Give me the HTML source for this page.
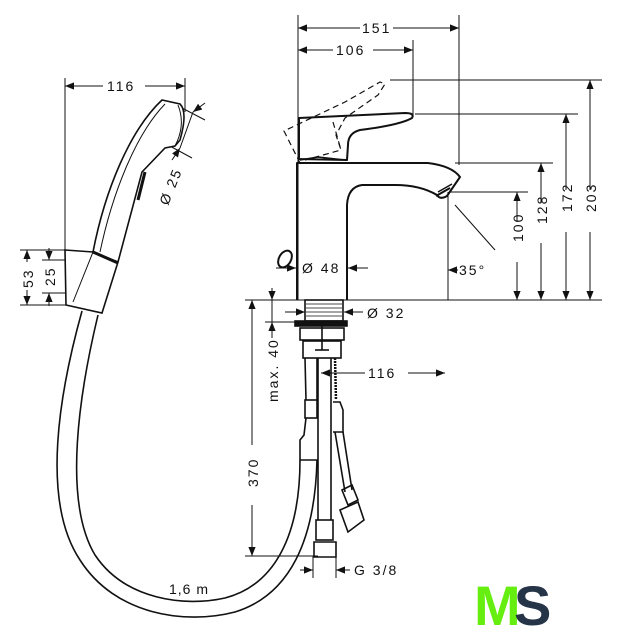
<!DOCTYPE html>
<html><head><meta charset="utf-8"><style>
html,body{margin:0;padding:0;background:#fff;}
svg{display:block}
text{font-family:"Liberation Sans",sans-serif;font-size:14px;fill:#111;letter-spacing:2px}
</style></head><body>
<svg width="617" height="640" viewBox="0 0 617 640" xmlns="http://www.w3.org/2000/svg">
<defs>
<marker id="a" viewBox="0 0 10 10" refX="10" refY="5" markerWidth="9" markerHeight="9" orient="auto-start-reverse" markerUnits="userSpaceOnUse"><path d="M0,1 L10,5 L0,9 z" fill="#111"/></marker>
</defs>
<g stroke="#111" stroke-width="1" fill="none">
<line x1="298" y1="15" x2="298" y2="300"/>
<line x1="459" y1="15" x2="459" y2="165"/>
<line x1="413" y1="40" x2="413" y2="115"/>
<line x1="390" y1="80" x2="602" y2="80"/>
<line x1="415" y1="114" x2="578" y2="114"/>
<line x1="455" y1="163" x2="553" y2="163"/>
<line x1="450" y1="192" x2="528" y2="192"/>
<line x1="245" y1="300" x2="602" y2="300"/>
<line x1="448" y1="192" x2="448" y2="300"/>
<line x1="455" y1="205" x2="495" y2="250"/>
<line x1="265" y1="322" x2="300" y2="322"/>
<line x1="245" y1="556" x2="318" y2="556"/>
<line x1="313" y1="556" x2="313" y2="578"/>
<line x1="336" y1="556" x2="336" y2="578"/>
<line x1="65" y1="78" x2="65" y2="252"/>
<line x1="185" y1="78" x2="185" y2="112"/>
<line x1="20" y1="250" x2="68" y2="250"/>
<line x1="20" y1="305" x2="68" y2="305"/>
<line x1="42" y1="260" x2="68" y2="260"/>
<line x1="42" y1="293" x2="68" y2="293"/>
<line x1="298" y1="28" x2="360" y2="28" marker-start="url(#a)"/><line x1="393" y1="28" x2="459" y2="28" marker-end="url(#a)"/>
<line x1="298" y1="50" x2="333" y2="50" marker-start="url(#a)"/><line x1="373" y1="50" x2="413" y2="50" marker-end="url(#a)"/>
<line x1="65" y1="86" x2="103" y2="86" marker-start="url(#a)"/><line x1="145" y1="86" x2="185" y2="86" marker-end="url(#a)"/>
<line x1="590" y1="80" x2="590" y2="190" marker-start="url(#a)"/><line x1="590" y1="232" x2="590" y2="300" marker-end="url(#a)"/>
<line x1="566" y1="114" x2="566" y2="190" marker-start="url(#a)"/><line x1="566" y1="232" x2="566" y2="300" marker-end="url(#a)"/>
<line x1="541" y1="163" x2="541" y2="203" marker-start="url(#a)"/><line x1="541" y1="243" x2="541" y2="300" marker-end="url(#a)"/>
<line x1="517" y1="192" x2="517" y2="222" marker-start="url(#a)"/><line x1="517" y1="262" x2="517" y2="300" marker-end="url(#a)"/>
<line x1="276" y1="268" x2="296" y2="268" marker-end="url(#a)"/><line x1="368" y1="268" x2="348" y2="268" marker-end="url(#a)"/>
<line x1="458" y1="270" x2="448" y2="270" marker-end="url(#a)"/>
<line x1="285" y1="312" x2="305" y2="312" marker-end="url(#a)"/><line x1="363" y1="312" x2="344" y2="312" marker-end="url(#a)"/>
<line x1="272" y1="288" x2="272" y2="300" marker-end="url(#a)"/><line x1="272" y1="338" x2="272" y2="322" marker-end="url(#a)"/>
<line x1="272" y1="300" x2="272" y2="322"/>
<line x1="252" y1="300" x2="252" y2="445" marker-start="url(#a)"/><line x1="252" y1="505" x2="252" y2="556" marker-end="url(#a)"/>
<line x1="365" y1="373" x2="321" y2="373" marker-end="url(#a)"/><line x1="408" y1="373" x2="445" y2="373" marker-end="url(#a)"/>
<line x1="300" y1="570" x2="313" y2="570" marker-end="url(#a)"/><line x1="350" y1="570" x2="336" y2="570" marker-end="url(#a)"/>
<line x1="27" y1="250" x2="27" y2="262" marker-start="url(#a)"/><line x1="27" y1="290" x2="27" y2="305" marker-end="url(#a)"/>
<line x1="49" y1="248" x2="49" y2="260" marker-end="url(#a)"/><line x1="49" y1="306" x2="49" y2="293" marker-end="url(#a)"/>
<line x1="168" y1="145" x2="192" y2="158"/><line x1="182" y1="108" x2="205" y2="120"/>
<line x1="205" y1="103" x2="193" y2="112" marker-end="url(#a)"/><line x1="172" y1="160" x2="180" y2="148" marker-end="url(#a)"/>
<line x1="180" y1="148" x2="193" y2="112"/>
</g>
<g stroke="#111" stroke-width="2" fill="none" stroke-linejoin="round">
<path d="M297,300 L297,163 L428,163 Q452,166 460,177 L447,196 Q440,200 437,195 Q420,185 395,185 L362,185 Q348,187 347,205 L347,300"/>
<path d="M438,192 L452,184" stroke-width="1.5"/><path d="M436,196 L450,188"/>
<path d="M299,159 L299,118 L405,113 Q415,113 412,118 Q400,125 360,130 Q348,133 348,145 L347,160 Z" fill="#fff"/>
<path d="M300,160 L318,157 L345,160" stroke-width="1.5"/>
<ellipse cx="285" cy="259" rx="6" ry="9" transform="rotate(30 285 259)"/>
</g>
<g stroke="#111" stroke-width="1.2" fill="none" stroke-dasharray="6,4">
<path d="M300,163 L284,131 L345,102 L380,82 L385,84 L378,95 L345,118 L336,135 L341,150 L305,160"/>
<path d="M333,122 L341,150"/>
</g>
<g stroke="#111" stroke-width="1.6" fill="none">
<rect x="305" y="300" width="38" height="21"/>
<path d="M306,304h36M306,308h36M306,312h36M306,316h36" stroke-width="0.8"/>
<rect x="295" y="321" width="52" height="5" fill="#111"/>
<rect x="300" y="328" width="44" height="12"/>
<rect x="303" y="341" width="38" height="17"/>
<line x1="322" y1="326" x2="322" y2="350"/><line x1="315" y1="350" x2="329" y2="350"/>
<path d="M318,358 L318,520 M331,358 L331,520"/>
<rect x="316" y="520" width="17" height="20"/>
<path d="M314,542 h22 v15 h-22 z"/>
<path d="M305,358 L306,400 M317,358 L317,400"/>
<rect x="305" y="400" width="12" height="18"/>
<path d="M306,418 L304,435 L300,440 L300,460 L318,460"/>
<path d="M335,358 L336,400" stroke-dasharray="2,1" stroke-width="2.5"/>
<path d="M333,402 L340,402 L343,410 L343,432 L333,432"/>
<path d="M335,432 L345,492 M343,432 L352,490"/>
<path d="M342,490 L352,485 L358,500 L348,505 Z"/>
<path d="M340,510 L358,502 L364,520 L348,532 Z"/>
<path d="M82,311 C60,390 40,500 80,560 C115,615 185,625 235,612 C290,595 315,540 317,460"/>
<path d="M98,315 C80,390 62,500 95,555 C125,600 185,607 225,598 C275,585 300,535 300,460"/>
<path d="M93,252 C105,190 130,130 162,100 L180,104 Q188,112 180,140 L175,146 L165,148 L142,172 L118,262" fill="#fff"/>
<path d="M100,252 C112,195 135,135 165,104" stroke-width="1"/>
<path d="M178,105 Q186,125 175,146" stroke-width="1"/>
<path d="M145,172 L138,200" stroke-width="3"/>
<path d="M65,250 L93,252 L118,262 L102,313 L66,305 Z" fill="#fff"/>
<path d="M93,252 L73,302" stroke-width="1"/>
<line x1="93" y1="252" x2="118" y2="263" stroke-width="3"/>
</g>
<text x="362" y="33">151</text>
<text x="336" y="55">106</text>
<text x="107" y="91">116</text>
<text x="302" y="273">Ø 48</text>
<text x="459" y="275">35°</text>
<text x="367" y="318">Ø 32</text>
<text x="368" y="378">116</text>
<text x="354" y="575">G 3/8</text>
<text x="169" y="594" style="letter-spacing:1px">1,6 m</text>
<text transform="translate(596,212) rotate(-90)">203</text>
<text transform="translate(572,212) rotate(-90)">172</text>
<text transform="translate(547,224) rotate(-90)">128</text>
<text transform="translate(523,242) rotate(-90)">100</text>
<text transform="translate(258,487) rotate(-90)">370</text>
<text transform="translate(278,402) rotate(-90)">max. 40</text>
<text transform="translate(33,288) rotate(-90)">53</text>
<text transform="translate(55,286) rotate(-90)">25</text>
<text transform="translate(168,206) rotate(-68)">Ø 25</text>
<text x="474" y="625" style="font-size:56px;font-weight:bold;fill:#66ee11;letter-spacing:0">M</text>
<text x="514" y="625" style="font-size:56px;font-weight:bold;fill:#263448;letter-spacing:0">S</text>
</svg>
</body></html>
